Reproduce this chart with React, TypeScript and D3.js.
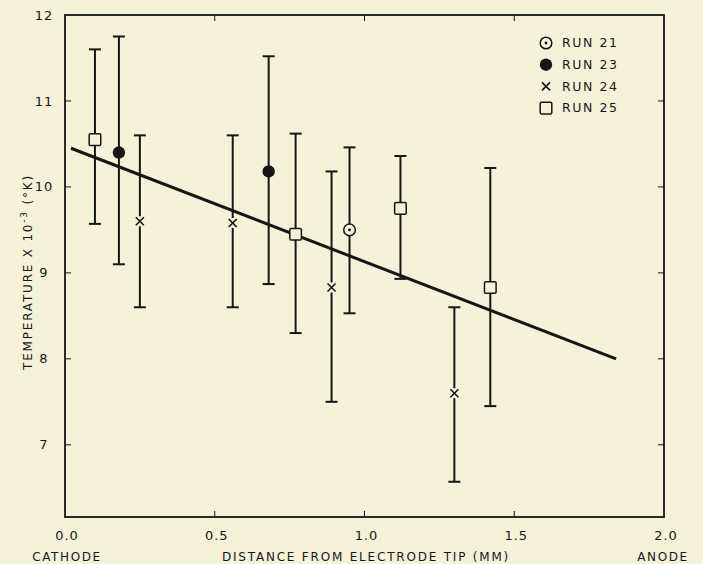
import React from "react";
import * as d3 from "d3";

// ---- data ----
const distance = [0.10, 0.18, 0.25, 0.56, 0.68, 0.77, 0.89, 0.95, 1.12, 1.30, 1.42];
const temperature = [10.55, 10.40, 9.60, 9.58, 10.18, 9.45, 8.83, 9.50, 9.75, 7.60, 8.83];
const errLow = [9.57, 9.10, 8.60, 8.60, 8.87, 8.30, 7.50, 8.53, 8.93, 6.57, 7.45];
const errHigh = [11.60, 11.75, 10.60, 10.60, 11.52, 10.62, 10.18, 10.46, 10.36, 8.60, 10.22];
const runOf = [25, 23, 24, 24, 23, 25, 24, 21, 25, 24, 25];

const fitX = [0.02, 1.84];
const fitY = [10.45, 8.0];

const legendRuns = [21, 23, 24, 25];
const yTicks = [7, 8, 9, 10, 11, 12];
const xTicks = [0.0, 0.5, 1.0, 1.5, 2.0];
const xInnerTicks = [0.5, 1.0, 1.5];
const yInnerTicks = [7, 8, 9, 10, 11];

const W = 703;
const H = 564;
const BG = "#f6f2da";
const INK = "#161616";
const FONT = "'DejaVu Sans', 'Liberation Sans', Arial, sans-serif";

const x = d3.scaleLinear().domain([0, 2]).range([65, 664]);
const y = d3.scaleLinear().domain([6.16, 12]).range([517, 15]);

function Marker({ run, cx, cy }: { run: number; cx: number; cy: number }) {
  if (run === 21) {
    return (
      <g>
        <circle cx={cx} cy={cy} r={5.8} fill={BG} stroke={INK} strokeWidth={1.5} />
        <circle cx={cx} cy={cy} r={1.4} fill={INK} />
      </g>
    );
  }
  if (run === 23) {
    return <circle cx={cx} cy={cy} r={6.2} fill={INK} />;
  }
  if (run === 24) {
    const s = 4;
    return (
      <g stroke={INK} strokeWidth={1.6}>
        <rect x={cx - s - 1} y={cy - s - 1} width={2 * s + 2} height={2 * s + 2} fill={BG} stroke="none" />
        <line x1={cx - s} y1={cy - s} x2={cx + s} y2={cy + s} />
        <line x1={cx - s} y1={cy + s} x2={cx + s} y2={cy - s} />
      </g>
    );
  }
  const h = 5.8;
  return (
    <rect x={cx - h} y={cy - h} width={2 * h} height={2 * h} rx={1.3} fill={BG} stroke={INK} strokeWidth={1.5} />
  );
}

export default function App() {
  const line = d3
    .line<number>()
    .x((_, i) => x(fitX[i]))
    .y((d) => y(d));

  const x0 = x.range()[0];
  const x1 = x.range()[1];
  const y0 = y.range()[0];
  const y1 = y.range()[1];
  const tick = 6;

  return (
    <svg
      width={W}
      height={H}
      style={{ position: "absolute", left: 0, top: 0, display: "block" }}
      fontFamily={FONT}
    >
      <rect x={0} y={0} width={W} height={H} fill={BG} />

      {/* frame */}
      <rect x={x0} y={y1} width={x1 - x0} height={y0 - y1} fill="none" stroke={INK} strokeWidth={1.8} />

      {/* inner ticks */}
      {yInnerTicks.map((t) => (
        <g key={"yt" + t} stroke={INK} strokeWidth={1}>
          <line x1={x0} x2={x0 + tick} y1={y(t)} y2={y(t)} />
          <line x1={x1} x2={x1 - tick} y1={y(t)} y2={y(t)} />
        </g>
      ))}
      {xInnerTicks.map((t) => (
        <g key={"xt" + t} stroke={INK} strokeWidth={1}>
          <line x1={x(t)} x2={x(t)} y1={y0} y2={y0 - tick} />
          <line x1={x(t)} x2={x(t)} y1={y1} y2={y1 + tick} />
        </g>
      ))}

      {/* y tick labels */}
      {yTicks.map((t) => (
        <text
          key={"yl" + t}
          x={44}
          y={y(t)}
          dy="0.35em"
          textAnchor="middle"
          fontSize={13}
          fill={INK}
          letterSpacing={1}
        >
          {t}
        </text>
      ))}

      {/* x tick labels */}
      {xTicks.map((t) => (
        <text
          key={"xl" + t}
          x={x(t) + 2}
          y={535}
          dy="0.35em"
          textAnchor="middle"
          fontSize={13}
          fill={INK}
          letterSpacing={1}
        >
          {t.toFixed(1)}
        </text>
      ))}

      {/* axis titles */}
      <text x={67} y={557} dy="0.35em" textAnchor="middle" fontSize={12} fill={INK} letterSpacing={1.6}>
        CATHODE
      </text>
      <text x={366} y={557} dy="0.35em" textAnchor="middle" fontSize={12} fill={INK} letterSpacing={1.8}>
        DISTANCE FROM ELECTRODE TIP (MM)
      </text>
      <text x={663} y={557} dy="0.35em" textAnchor="middle" fontSize={12} fill={INK} letterSpacing={1.6}>
        ANODE
      </text>
      <text
        transform={`translate(32, ${(y0 + y1) / 2 + 6}) rotate(-90)`}
        textAnchor="middle"
        fontSize={12}
        fill={INK}
        letterSpacing={1.8}
      >
        TEMPERATURE X 10
        <tspan dy={-5} fontSize={9}>-3</tspan>
        <tspan dy={5}> (°K)</tspan>
      </text>

      {/* fit line */}
      <path d={line(fitY) || ""} fill="none" stroke={INK} strokeWidth={3} />

      {/* error bars */}
      {distance.map((d, i) => {
        const cx = x(d);
        const cap = 6;
        return (
          <g key={"eb" + i} stroke={INK} strokeWidth={2}>
            <line x1={cx} x2={cx} y1={y(errLow[i])} y2={y(errHigh[i])} />
            <line x1={cx - cap} x2={cx + cap} y1={y(errLow[i])} y2={y(errLow[i])} />
            <line x1={cx - cap} x2={cx + cap} y1={y(errHigh[i])} y2={y(errHigh[i])} />
          </g>
        );
      })}

      {/* markers */}
      {distance.map((d, i) => (
        <Marker key={"m" + i} run={runOf[i]} cx={x(d)} cy={y(temperature[i])} />
      ))}

      {/* legend */}
      {legendRuns.map((r, i) => {
        const ly = 43 + i * 21.7;
        return (
          <g key={"lg" + r}>
            <Marker run={r} cx={546} cy={ly} />
            <text x={562} y={ly} dy="0.35em" fontSize={12.5} fill={INK} letterSpacing={1.6}>
              {`RUN ${r}`}
            </text>
          </g>
        );
      })}
    </svg>
  );
}
